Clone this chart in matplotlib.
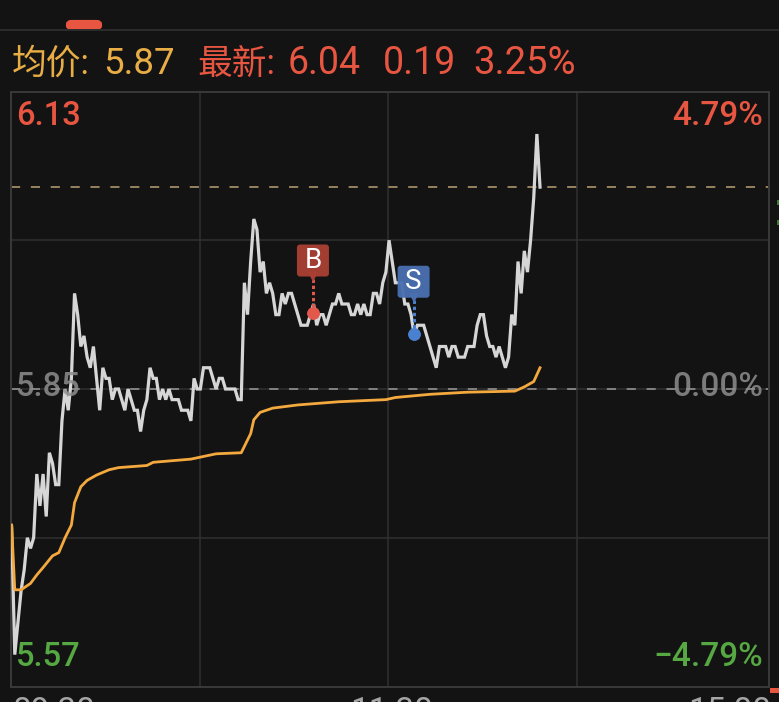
import numpy as np
import matplotlib
matplotlib.use('Agg')
import matplotlib.pyplot as plt
from matplotlib.patches import Rectangle, FancyBboxPatch
from matplotlib.transforms import Affine2D

plt.rcParams['font.family'] = ['Roboto', 'Noto Sans CJK SC', 'DejaVu Sans']

# latest price, one value per minute
price = [5.72, 5.60, 5.63, 5.66, 5.68, 5.71, 5.70, 5.71, 5.77, 5.74,
         5.77, 5.73, 5.79, 5.78, 5.76, 5.76, 5.82, 5.85, 5.83, 5.86,
         5.94, 5.92, 5.89, 5.90, 5.88, 5.87, 5.89, 5.86, 5.83, 5.87,
         5.86, 5.86, 5.84, 5.85, 5.85, 5.84, 5.83, 5.85, 5.84, 5.83,
         5.83, 5.81, 5.83, 5.84, 5.87, 5.86, 5.86, 5.84, 5.85, 5.84,
         5.85, 5.84, 5.84, 5.84, 5.83, 5.83, 5.83, 5.82, 5.86, 5.85,
         5.85, 5.87, 5.87, 5.87, 5.86, 5.85, 5.86, 5.86, 5.85, 5.85,
         5.85, 5.85, 5.84, 5.84, 5.95, 5.92, 5.97, 6.01, 6.00, 5.96,
         5.97, 5.94, 5.95, 5.94, 5.92, 5.92, 5.94, 5.93, 5.94, 5.94,
         5.93, 5.92, 5.91, 5.91, 5.91, 5.92, 5.93, 5.91, 5.92, 5.92,
         5.91, 5.92, 5.93, 5.93, 5.94, 5.93, 5.93, 5.93, 5.92, 5.92,
         5.93, 5.92, 5.93, 5.92, 5.92, 5.94, 5.94, 5.93, 5.95, 5.96,
         5.99, 5.97, 5.95, 5.95, 5.95, 5.93, 5.93, 5.92, 5.90, 5.91,
         5.91, 5.91, 5.90, 5.89, 5.88, 5.87, 5.89, 5.89, 5.89, 5.88,
         5.89, 5.89, 5.88, 5.88, 5.88, 5.89, 5.89, 5.89, 5.91, 5.92,
         5.92, 5.90, 5.89, 5.89, 5.88, 5.89, 5.88, 5.87, 5.88, 5.92,
         5.91, 5.97, 5.94, 5.98, 5.96, 5.99, 6.03, 6.09, 6.04]

# average price line
avg_min = [0, 1, 3, 6, 8, 10, 13, 15, 17, 19, 20, 22, 24, 27, 31, 34, 43, 45,
           57, 65, 73, 76, 77, 79, 83, 91, 104, 119, 122, 133, 145, 160, 163,
           166, 168]
avg_price = [5.722, 5.661, 5.661, 5.667, 5.675, 5.682, 5.693, 5.696, 5.710,
             5.722, 5.743, 5.758, 5.764, 5.769, 5.774, 5.776, 5.778, 5.781,
             5.784, 5.789, 5.790, 5.808, 5.821, 5.828, 5.832, 5.835, 5.838,
             5.840, 5.842, 5.845, 5.847, 5.848, 5.852, 5.857, 5.870]

time_ticks = [0, 60, 120, 180, 240]
price_grid = [5.71, 5.85, 5.99]
prev_close = 5.85
last_price = 6.04
y_low = 5.57
y_high = 6.13

buy = (96, 5.922)
sell = (128, 5.902)

BG = '#131313'
GRID = '#303030'
RED = '#e85642'
GREEN = '#56a843'
AMBER = '#e8ae45'
GRAY = '#8e8e8e'

W, H = 779, 702
fig = plt.figure(figsize=(W / 100, H / 100), dpi=100, facecolor=BG)
ax = fig.add_axes([11 / W, 1 - 686.5 / H, 758 / W, 595 / H], facecolor=BG)
ax.set_xlim(0, 241)
ax.set_ylim(y_low, y_high)
ax.set_xticks(time_ticks[1:-1])
ax.set_yticks(price_grid)
ax.tick_params(length=0, labelbottom=False, labelleft=False)
ax.grid(True, color=GRID, lw=1.1)
ax.set_axisbelow(True)
for s in ax.spines.values():
    s.set_color('#3a3a3a')
    s.set_linewidth(1.4)


def label(x, y, s, color, size=24, ha='left', **kw):
    fig.text(x / W, 1 - y / H, s, color=color, fontsize=size, ha=ha, va='baseline', **kw)


# reference lines
ax.axhline(prev_close, color='#9a9a9a', lw=1.1, dashes=(6, 7), zorder=2)
ax.axhline(last_price, color='#b9a075', lw=1.1, dashes=(6, 7), zorder=2)

# price and average
minutes = np.arange(len(price)) + 0.2
ax.plot(minutes, price, color='#d6d6d6', lw=2.3, solid_joinstyle='miter', zorder=3)
ax.plot(np.array(avg_min) + 0.2, avg_price, color='#f4a93f', lw=2.0, zorder=4)


# trade markers: box sits a fixed number of pixels above the point
def trade(pt, letter, box_col, dot_col, lift):
    up = ax.transData + Affine2D().translate(0, lift)
    ax.plot([pt[0], pt[0]], [pt[1], pt[1]], marker='o', ms=9, color=dot_col, zorder=5, mew=0)
    x0, y0 = ax.transData.transform(pt)
    ax.plot([x0, x0], [y0, y0 + lift - 8], transform=None, color=dot_col, lw=2.2, dashes=(1.1, 0.9), zorder=5)
    ax.plot(pt[0], pt[1], marker='v', ms=7, mew=0, color=box_col, transform=up + Affine2D().translate(0, -16), zorder=6)
    box = FancyBboxPatch((x0 - 14.5, y0 + lift - 14.5), 29, 29, boxstyle='round,pad=1.5,rounding_size=3',
                         fc=box_col, ec='none', transform=None, zorder=6, alpha=0.96)
    ax.add_patch(box)
    ax.text(pt[0], pt[1], letter, color='white', fontsize=20, ha='center', va='center', transform=up, zorder=7)


fig.canvas.draw()
trade(buy, 'B', '#a93f33', '#e2594b', 52)
trade(sell, 'S', '#4a6fb0', '#4a80d0', 52)

# axis text
label(16, 125, '6.13', RED, size=23.5, weight='medium')
label(16, 396, '5.85', GRAY, size=23.5, weight='medium', alpha=0.85)
label(16, 666, '5.57', GREEN, size=23.5, weight='medium')
label(763, 125, '4.79%', RED, ha='right', weight='medium')
label(763, 396, '0.00%', GRAY, ha='right', weight='medium', alpha=0.85)
label(763, 666, '\u22124.79%', GREEN, ha='right', weight='medium')

# header row
label(12, 74, '均价:', AMBER, size=25)
label(103, 74, '5.87', AMBER, size=26.5)
label(197, 74, '最新:', RED, size=25)
label(288, 74, '6.04', RED, size=27)
label(383, 74, '0.19', RED, size=27)
label(473, 74, '3.25%', RED, size=27.5)

# time labels, cut off by the bottom edge
label(12, 721, '09:30', '#a5a5a5')
label(350, 721, '11:30', '#a5a5a5')
label(688, 721, '15:00', '#a5a5a5')

# top rule and small decorations
fig.add_artist(plt.Line2D([0, 1], [1 - 29.5 / H] * 2, color='#2c2c2c', lw=1.4))
fig.add_artist(FancyBboxPatch((68 / W, 1 - 28 / H), 32 / W, 6 / H, boxstyle='round,pad=0,rounding_size=0.004',
                              fc=RED, ec=RED, lw=3, transform=fig.transFigure, mutation_aspect=H / W))
fig.add_artist(Rectangle((770 / W, 1 - 693 / H), 9 / W, 5 / H, fc=RED, ec='none', transform=fig.transFigure))
for yy in (205, 225):
    fig.add_artist(Rectangle((777 / W, 1 - yy / H), 2 / W, 5 / H, fc='#3f7a35', ec='none', transform=fig.transFigure))

fig.savefig('out.png', dpi=100, facecolor=BG)
